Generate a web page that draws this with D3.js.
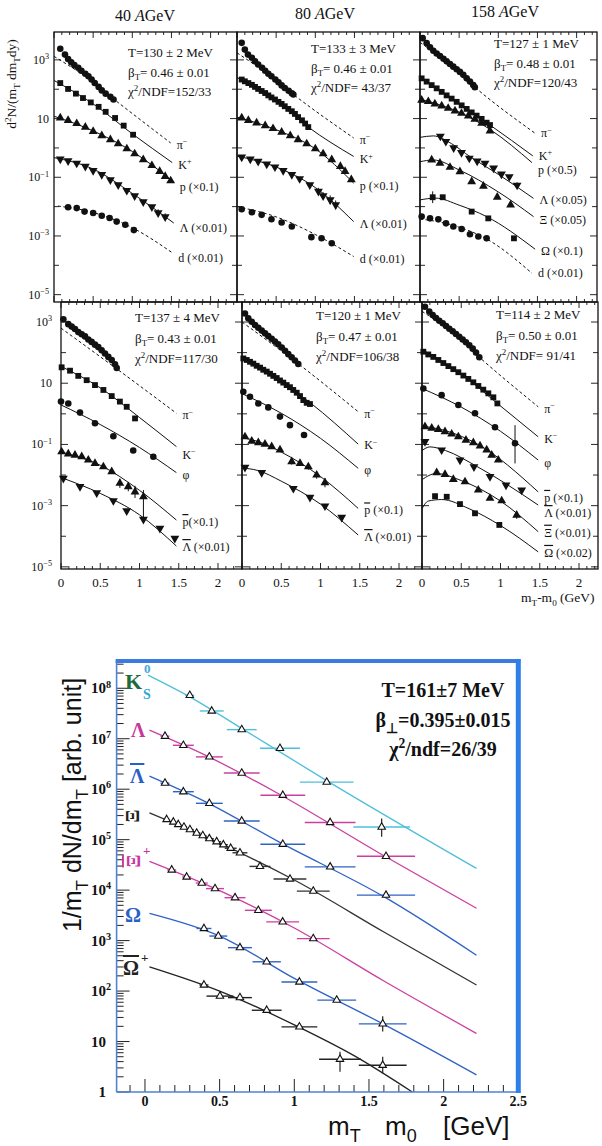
<!DOCTYPE html>
<html><head><meta charset="utf-8">
<script src="https://cdn.jsdelivr.net/npm/d3@7/dist/d3.min.js"></script>
<style>html,body{margin:0;padding:0;background:#fff;}svg{display:block;}</style>
</head><body>
<svg id="chart" width="602" height="1146" xmlns="http://www.w3.org/2000/svg"></svg>
<script>
// ================= DATA (top figure): points are [mT-m0 (GeV), log10(yield), errUp, errDown] =================
const beamEnergies = ["40", "80", "158"];
const panelT    = ["T=130 ± 2 MeV","T=133 ± 3 MeV","T=127 ± 1 MeV","T=137 ± 4 MeV","T=120 ± 1 MeV","T=114 ± 2 MeV"];
const panelBeta = ["= 0.46 ± 0.01","= 0.46 ± 0.01","= 0.48 ± 0.01","= 0.43 ± 0.01","= 0.47 ± 0.01","= 0.50 ± 0.01"];
const panelChi  = ["/NDF=152/33","/NDF= 43/37","/NDF=120/43","/NDF=117/30","/NDF=106/38","/NDF= 91/41"];
const topYTickExp = [3, 1, -1, -3, -5];
const topXTickVals = [0, 0.5, 1, 1.5, 2];

// 40 AGeV, positive
const tl_pi = [[0.08,3.38],[0.14,3.18],[0.18,3.03],[0.22,2.92],[0.26,2.82],[0.31,2.73],[0.35,2.63],[0.40,2.53],[0.44,2.44],[0.48,2.33],[0.52,2.21],[0.57,2.08],[0.61,1.96],[0.66,1.85],[0.72,1.74],[0.76,1.65]];
const tl_pi_fit = [[0,3.12],[0.4,2.43],[0.76,1.67],[1.49,0.17]];
const tl_k = [[0.08,2.21],[0.18,2.01],[0.28,1.85],[0.37,1.70],[0.47,1.55],[0.57,1.40],[0.66,1.23],[0.78,1.02],[0.89,0.76],[1.01,0.45]];
const tl_k_fit = [[0,2.3],[0.5,1.5],[1.0,0.48],[1.51,-0.5]];
const tl_p = [[0.08,1.02],[0.18,0.94],[0.29,0.83],[0.40,0.71],[0.50,0.56],[0.61,0.42],[0.72,0.28],[0.82,0.14],[0.93,-0.03],[1.03,-0.20],[1.14,-0.40],[1.25,-0.60],[1.35,-0.80],[1.42,-0.97],[1.49,-1.12]];
const tl_p_fit = [[0,1.08],[0.5,0.58],[1.0,-0.12],[1.53,-1.16]];
const tl_lam = [[0.08,-0.38],[0.18,-0.44],[0.29,-0.52],[0.40,-0.63],[0.50,-0.77],[0.61,-0.91],[0.72,-1.09],[0.82,-1.26],[0.93,-1.45],[1.03,-1.63],[1.14,-1.84],[1.25,-2.01],[1.33,-2.21,0.12,0.12],[1.42,-2.35,0.12,0.12]];
const tl_lam_fit = [[0,-0.33],[0.5,-0.72],[1.0,-1.55],[1.53,-2.56]];
const tl_d = [[0.18,-2.02],[0.29,-2.05],[0.39,-2.17],[0.50,-2.22],[0.61,-2.31],[0.71,-2.39],[0.80,-2.51],[0.91,-2.62],[1.02,-2.80]];
const tl_d_fit = [[0.05,-1.98],[0.5,-2.2],[1.0,-2.72],[1.51,-3.57]];

// 80 AGeV, positive
const tm_pi = [[0.06,3.58],[0.10,3.35],[0.14,3.18],[0.19,3.07],[0.23,2.95],[0.27,2.84],[0.32,2.73],[0.36,2.63],[0.40,2.53],[0.44,2.44],[0.49,2.33],[0.53,2.24],[0.57,2.13],[0.61,2.04],[0.66,1.95],[0.70,1.86],[0.72,1.82]];
const tm_pi_fit = [[0,3.24],[0.4,2.5],[0.72,1.82],[1.49,0.34]];
const tm_k = [[0.06,2.33],[0.10,2.27],[0.145,2.21],[0.19,2.15],[0.23,2.08],[0.27,2.01],[0.315,1.94],[0.36,1.87],[0.40,1.79],[0.44,1.72],[0.485,1.65],[0.53,1.57],[0.57,1.50],[0.61,1.42],[0.655,1.33],[0.70,1.25],[0.74,1.16],[0.78,1.05],[0.83,0.94],[0.87,0.83],[0.91,0.71]];
const tm_k_fit = [[0,2.4],[0.5,1.6],[0.91,0.71],[1.49,-0.29]];
const tm_p = [[0.06,1.02],[0.145,0.94],[0.25,0.85],[0.36,0.76],[0.46,0.66],[0.57,0.54],[0.68,0.42],[0.78,0.28],[0.89,0.14],[1.0,-0.03],[1.10,-0.20],[1.21,-0.40],[1.32,-0.63],[1.38,-0.80],[1.46,-1.08]];
const tm_p_fit = [[0,1.05],[0.5,0.62],[1.0,-0.03],[1.49,-1.2]];
const tm_lam = [[0.06,-0.31],[0.17,-0.38],[0.27,-0.46],[0.38,-0.55],[0.485,-0.65],[0.59,-0.77],[0.70,-0.91],[0.80,-1.05],[0.93,-1.26],[1.04,-1.48,0.12,0.12],[1.10,-1.63,0.12,0.12],[1.19,-1.77,0.15,0.15],[1.26,-1.94,0.15,0.15]];
const tm_lam_fit = [[0,-0.28],[0.5,-0.65],[1.0,-1.35],[1.49,-2.51]];
const tm_d = [[0.06,-2.09],[0.19,-2.19],[0.315,-2.28],[0.44,-2.43],[0.57,-2.54],[0.70,-2.68],[0.95,-3.04],[1.08,-3.08],[1.21,-3.25]];
const tm_d_fit = [[0,-2.0],[0.5,-2.35],[1.0,-2.95],[1.49,-3.7]];

// 158 AGeV, positive
const tr_pi = [[0.034,3.74],[0.085,3.57],[0.128,3.43],[0.17,3.31],[0.213,3.22],[0.255,3.13],[0.30,3.04],[0.34,2.95],[0.383,2.86],[0.425,2.77],[0.468,2.68],[0.51,2.59],[0.553,2.49],[0.596,2.37],[0.638,2.26],[0.68,2.14],[0.70,2.07]];
const tr_pi_fit = [[0,3.6],[0.4,2.78],[0.7,2.07],[1.47,0.5]];
const tr_k = [[0.021,2.37],[0.085,2.26],[0.149,2.14],[0.213,2.03],[0.277,1.91],[0.34,1.79],[0.404,1.68],[0.468,1.57],[0.532,1.45],[0.596,1.33],[0.66,1.21],[0.723,1.10],[0.787,0.99],[0.851,0.86],[0.894,0.78]];
const tr_k_fit = [[0,2.4],[0.5,1.5],[0.894,0.78],[1.44,-0.27]];
const tr_p = [[0.021,1.63],[0.106,1.58],[0.19,1.50],[0.277,1.43],[0.36,1.35],[0.447,1.26],[0.53,1.18],[0.617,1.09],[0.70,0.98],[0.787,0.84],[0.894,0.58]];
const tr_p_fit = [[0,1.66],[0.5,1.22],[0.9,0.62],[1.43,-0.5]];
const tr_lam = [[0.26,0.40],[0.33,0.22],[0.43,0.0],[0.53,-0.16],[0.63,-0.35],[0.73,-0.45],[0.83,-0.52],[0.94,-0.69],[1.04,-0.89],[1.14,-0.98],[1.24,-1.27,0.1,0.1]];
const tr_lam_fit = [[0,0.36],[0.17,0.41],[0.4,0.15],[0.64,-0.3],[1.0,-0.9],[1.45,-1.72]];
const tr_xi = [[0.149,-0.41],[0.255,-0.52],[0.383,-0.66],[0.51,-0.81],[0.66,-1.15],[0.81,-1.30],[0.987,-1.68],[1.157,-1.94]];
const tr_xi_fit = [[0,-0.47],[0.17,-0.41],[0.5,-0.75],[1.0,-1.5],[1.45,-2.34]];
const tr_om = [[0.162,-1.68,0.2,0.2],[0.29,-1.68],[0.66,-2.17],[0.872,-2.40],[1.2,-3.08]];
const tr_om_fit = [[0,-1.77],[0.2,-1.71],[0.5,-1.95],[0.85,-2.34],[1.47,-3.45]];
const tr_d = [[0.021,-2.34],[0.128,-2.40],[0.234,-2.43],[0.332,-2.57],[0.426,-2.68],[0.532,-2.76],[0.638,-2.94],[0.745,-3.02],[0.851,-3.08,0.1,0.1]];
const tr_d_fit = [[0,-2.42],[0.4,-2.62],[0.85,-3.1],[1.43,-4.27]];

// 40 AGeV, negative
const bl_pi = [[0.03,3.09],[0.093,2.93],[0.136,2.85],[0.178,2.77],[0.22,2.67],[0.264,2.60],[0.306,2.53],[0.348,2.43],[0.39,2.35],[0.433,2.26],[0.475,2.18],[0.518,2.08],[0.56,1.97],[0.603,1.86],[0.646,1.76],[0.688,1.62],[0.71,1.50]];
const bl_pi_fit = [[0,2.8],[0.71,1.47],[1.47,0.02]];
const bl_k = [[0.008,1.52],[0.115,1.41],[0.22,1.24],[0.327,1.10],[0.433,0.94],[0.54,0.78],[0.646,0.58],[0.75,0.40],[0.837,0.23],[0.943,-0.15]];
const bl_k_fit = [[0,1.55],[0.5,0.85],[1.0,-0.12],[1.47,-1.07]];
const bl_phi = [[0.0,0.40],[0.093,0.34],[0.242,0.04],[0.433,-0.31],[0.667,-0.73],[0.92,-1.2],[1.176,-1.4]];
const bl_phi_fit = [[0,0.29],[0.5,-0.35],[1.0,-1.1],[1.47,-1.92]];
const bl_pbar = [[0.008,-1.24],[0.093,-1.31],[0.178,-1.35],[0.264,-1.40],[0.348,-1.51],[0.433,-1.62],[0.54,-1.73],[0.646,-1.89],[0.75,-2.27,0.15,0.15],[0.857,-2.38,0.15,0.15],[0.943,-2.55,0.2,0.2],[1.05,-2.71,0.22,0.76]];
const bl_pbar_fit = [[0,-1.25],[0.5,-1.68],[1.0,-2.5],[1.47,-3.47]];
const bl_lbar = [[0.03,-2.11],[0.242,-2.38],[0.455,-2.58],[0.667,-2.84],[0.837,-3.17],[1.05,-3.45],[1.26,-3.74],[1.45,-4.07]];
const bl_lbar_fit = [[0,-2.08],[0.5,-2.6],[1.0,-3.3],[1.47,-4.32]];

// 80 AGeV, negative
const bm_pi = [[0.038,3.28],[0.08,3.12],[0.124,3.01],[0.166,2.90],[0.208,2.81],[0.251,2.72],[0.293,2.63],[0.335,2.54],[0.378,2.45],[0.42,2.36],[0.462,2.27],[0.506,2.17],[0.548,2.06],[0.59,1.95],[0.633,1.85],[0.675,1.74],[0.717,1.63]];
const bm_pi_fit = [[0,3.0],[0.72,1.63],[1.48,0.07]];
const bm_k = [[0.017,1.81],[0.06,1.76],[0.102,1.70],[0.144,1.64],[0.187,1.57],[0.23,1.51],[0.271,1.44],[0.315,1.38],[0.357,1.31],[0.399,1.24],[0.442,1.17],[0.484,1.09],[0.526,1.02],[0.569,0.94],[0.611,0.87],[0.653,0.78],[0.697,0.69],[0.739,0.58],[0.781,0.45],[0.824,0.36],[0.866,0.32]];
const bm_k_fit = [[0,1.84],[0.5,1.05],[0.87,0.36],[1.48,-0.99]];
const bm_phi = [[0.017,0.72],[0.102,0.56],[0.208,0.34],[0.335,0.21],[0.484,-0.09],[0.611,-0.37],[0.79,-0.69]];
const bm_phi_fit = [[0,0.66],[0.5,0.02],[1.0,-0.8],[1.48,-1.78]];
const bm_pbar = [[0.038,-0.75],[0.124,-0.89],[0.208,-0.94],[0.293,-0.99],[0.378,-1.07],[0.484,-1.18],[0.633,-1.56,0.1,0.1],[0.739,-1.62,0.08,0.08],[0.845,-1.73,0.1,0.1],[0.951,-2.0,0.12,0.12],[1.057,-2.25,0.15,0.15]];
const bm_pbar_fit = [[0,-0.78],[0.2,-0.9],[0.5,-1.25],[1.0,-2.05],[1.48,-3.09]];
const bm_lbar = [[0.038,-1.75],[0.251,-1.92],[0.654,-2.44],[0.866,-2.73],[1.057,-3.01],[1.27,-3.38]];
const bm_lbar_fit = [[0,-1.77],[0.2,-1.85],[0.5,-2.2],[1.0,-2.95],[1.48,-3.96]];

// 158 AGeV, negative
const br_pi = [[0.038,3.5],[0.093,3.34],[0.136,3.23],[0.178,3.13],[0.22,3.04],[0.264,2.96],[0.306,2.87],[0.348,2.78],[0.391,2.70],[0.433,2.61],[0.475,2.52],[0.518,2.43],[0.56,2.34],[0.603,2.24],[0.646,2.13],[0.688,2.0],[0.73,1.85]];
const br_pi_fit = [[0,3.35],[0.4,2.62],[0.73,1.85],[1.48,0.23]];
const br_k = [[0.017,2.03],[0.08,1.94],[0.144,1.86],[0.208,1.76],[0.272,1.66],[0.336,1.56],[0.399,1.46],[0.463,1.36],[0.527,1.25],[0.59,1.14],[0.654,1.03],[0.718,0.91],[0.781,0.79],[0.845,0.67],[0.909,0.54],[0.96,0.34]];
const br_k_fit = [[0,2.1],[0.5,1.3],[0.96,0.34],[1.48,-0.75]];
const br_phi = [[0.017,0.83],[0.25,0.61],[0.463,0.29],[0.675,0.02],[0.93,-0.44],[1.185,-0.96,0.59,0.66]];
const br_phi_fit = [[0,0.83],[0.5,0.22],[1.0,-0.57],[1.48,-1.51]];
const br_pbar = [[0.038,-0.42],[0.124,-0.47],[0.208,-0.51],[0.293,-0.58],[0.378,-0.66],[0.463,-0.75],[0.56,-0.86],[0.654,-0.94],[0.739,-1.05],[0.824,-1.18],[0.888,-1.35],[0.972,-1.51]];
const br_pbar_fit = [[0,-0.4],[0.3,-0.55],[0.7,-0.98],[1.48,-2.55]];
const br_lbar = [[0.038,-0.91],[0.25,-1.18],[0.484,-1.51],[0.662,-1.73],[0.866,-2.05],[1.07,-2.33],[1.27,-2.49]];
const br_lbar_fit = [[0,-1.2],[0.1,-1.08],[0.3,-1.2],[0.7,-1.72],[1.48,-2.98]];
const br_xibar = [[0.187,-1.92],[0.293,-1.98],[0.399,-2.14],[0.548,-2.22],[0.717,-2.49],[0.866,-2.76],[1.015,-2.84],[1.206,-3.31,0.12,0.12]];
const br_xibar_fit = [[0,-2.15],[0.18,-1.95],[0.5,-2.18],[1.0,-2.85],[1.48,-3.85]];
const br_ombar = [[0.166,-2.69],[0.315,-2.71],[0.484,-2.95],[0.675,-3.25],[0.985,-3.63]];
const br_ombar_fit = [[0,-3.1],[0.08,-2.85],[0.25,-2.8],[0.6,-3.1],[1.0,-3.65],[1.48,-4.51]];

// ================= DATA (bottom figure): [mT-m0 (GeV), log10(1/mT dN/dmT), xErr, errUp, errDown] =================
const botYTickExp = [0,1,2,3,4,5,6,7,8];
const botXTickVals = [0, 0.5, 1, 1.5, 2, 2.5];
const k0s = [[0.30,7.86,0.03],[0.447,7.55,0.08],[0.648,7.18,0.10],[0.904,6.81,0.134],[1.217,6.14,0.18],[1.585,5.25,0.19,0.17,0.19]];
const k0s_fit = [[0.02,8.26],[0.3,7.83],[0.65,7.2],[1.2,6.2],[2.22,4.43]];
const lam = [[0.134,7.05,0.03],[0.257,6.87,0.07],[0.431,6.64,0.09],[0.648,6.32,0.12],[0.923,5.88,0.15],[1.24,5.34,0.17],[1.614,4.67,0.195]];
const lam_fit = [[0.03,7.17],[0.4,6.68],[0.9,5.9],[1.6,4.68],[2.22,3.64]];
const lbar = [[0.134,6.12,0.03],[0.257,5.95,0.07],[0.431,5.72,0.09],[0.648,5.37,0.12],[0.923,4.91,0.15],[1.24,4.46,0.17],[1.614,3.90,0.195]];
const lbar_fit = [[0.03,6.26],[0.4,5.76],[0.9,4.95],[1.6,3.87],[2.22,2.71]];
const xi = [[0.145,5.40,0.02],[0.19,5.35,0.02],[0.223,5.30,0.02],[0.261,5.25,0.02],[0.301,5.20,0.025],[0.346,5.13,0.025],[0.387,5.08,0.025],[0.431,5.02,0.03],[0.48,4.96,0.03],[0.525,4.90,0.03],[0.574,4.83,0.04],[0.636,4.74,0.05],[0.77,4.47,0.07],[0.971,4.22,0.11],[1.127,3.98,0.11]];
const xi_fit = [[0.03,5.53],[0.5,4.93],[1.0,4.2],[1.6,3.17],[2.22,2.12]];
const xibar = [[0.179,4.40,0.03],[0.279,4.26,0.03],[0.38,4.14,0.04],[0.469,4.03,0.06],[0.603,3.85,0.07],[0.759,3.60,0.09],[0.922,3.37,0.11],[1.127,3.04,0.11]];
const xibar_fit = [[0.03,4.57],[0.5,3.99],[1.0,3.25],[1.6,2.2],[2.22,1.16]];
const om = [[0.395,3.24,0.05],[0.491,3.09,0.06],[0.636,2.86,0.08],[0.815,2.58,0.095],[1.034,2.18,0.12],[1.284,1.82,0.13],[1.592,1.35,0.16,0.15,0.15]];
const om_fit = [[0.03,3.54],[0.5,3.09],[1.0,2.25],[1.6,1.34],[2.22,0.34]];
const ombar = [[0.395,2.12,0.03],[0.502,1.90,0.09],[0.636,1.87,0.08],[0.815,1.62,0.1],[1.034,1.29,0.12],[1.306,0.65,0.14,0.15,0.25],[1.592,0.53,0.16,0.17,0.16]];
const ombar_fit = [[0.03,2.48],[0.5,2.0],[1.0,1.33],[1.4,0.72],[1.79,0.0]];

// ================= LAYOUT / STYLE =================
const svg = d3.select('#chart');
const SERIF = '"Liberation Serif","Times New Roman",serif';
const SANS = '"Liberation Sans",Arial,sans-serif';

// plain text; a letter written with a following U+0304 is shown with an overline (antiparticle bar)
function addSeg(t, s, dy, size) {
  const segs = s.split(/(.\u0304)/).filter(x => x.length);
  segs.forEach((seg, j) => {
    const bar = seg.includes('\u0304');
    const ts = t.append('tspan').attr('dy', j === 0 ? dy : 0).attr('font-size', size).text(bar ? seg.replace('\u0304', '') : seg);
    if (bar) ts.attr('style', 'text-decoration:overline');
  });
}
function rich(t, str, fs) {
  const parts = str.split(/(\^\{[^}]*\}|_\{[^}]*\})/).filter(s => s.length);
  let shift = 0;
  parts.forEach(p => {
    let s = p, target = 0, size = fs;
    if (p.startsWith('^{')) { s = p.slice(2, -1); target = -0.38 * fs; size = 0.68 * fs; }
    else if (p.startsWith('_{')) { s = p.slice(2, -1); target = 0.28 * fs; size = 0.68 * fs; }
    addSeg(t, s, target - shift, size);
    shift = target;
  });
  return t;
}

const rows = [
  {top:32, bot:302, lo:-5.25, hi:3.95, x0:[54,237,420], x1:[237,420,597], ppg:78.3, textY:[57,53,48], lineGap:19.5, labX:49},
  {top:302, bot:569, lo:-5.07, hi:3.654, x0:[61,242,422], x1:[242,422,598], ppg:78.5, textY:[322,320,319], lineGap:20.5, labX:52}
];

const panels = [
  {row:0, col:0, series:[
    {pts:tl_pi, fit:tl_pi_fit, sym:'c', dash:true, label:'π^{−}', ldy:6},
    {pts:tl_k, fit:tl_k_fit, sym:'s', label:'K^{+}', ldy:6},
    {pts:tl_p, fit:tl_p_fit, sym:'u', label:'p (×0.1)', ldy:9},
    {pts:tl_lam, fit:tl_lam_fit, sym:'d', label:'Λ (×0.01)', ldy:9},
    {pts:tl_d, fit:tl_d_fit, sym:'c', dash:true, label:'d (×0.01)', ldy:9}]},
  {row:0, col:1, series:[
    {pts:tm_pi, fit:tm_pi_fit, sym:'c', dash:true, label:'π^{−}', ldy:6},
    {pts:tm_k, fit:tm_k_fit, sym:'s', label:'K^{+}', ldy:7},
    {pts:tm_p, fit:tm_p_fit, sym:'u', label:'p (×0.1)', ldy:7},
    {pts:tm_lam, fit:tm_lam_fit, sym:'d', label:'Λ (×0.01)', ldy:6},
    {pts:tm_d, fit:tm_d_fit, sym:'c', dash:true, label:'d (×0.01)', ldy:6}]},
  {row:0, col:2, series:[
    {pts:tr_pi, fit:tr_pi_fit, sym:'c', dash:true, label:'π^{−}', ldy:4},
    {pts:tr_k, fit:tr_k_fit, sym:'s', label:'K^{+}', ldy:4},
    {pts:tr_p, fit:tr_p_fit, sym:'u', label:'p (×0.5)', ldy:11},
    {pts:tr_lam, fit:tr_lam_fit, sym:'d', label:'Λ (×0.05)', ldy:6},
    {pts:tr_xi, fit:tr_xi_fit, sym:'u', label:'Ξ (×0.05)', ldy:7},
    {pts:tr_om, fit:tr_om_fit, sym:'s', label:'Ω (×0.1)', ldy:6},
    {pts:tr_d, fit:tr_d_fit, sym:'c', dash:true, label:'d (×0.01)', ldy:4}]},
  {row:1, col:0, series:[
    {pts:bl_pi, fit:bl_pi_fit, sym:'c', dash:true, label:'π^{−}', ldy:6},
    {pts:bl_k, fit:bl_k_fit, sym:'s', label:'K^{−}', ldy:12},
    {pts:bl_phi, fit:bl_phi_fit, sym:'c', label:'φ', ldy:6},
    {pts:bl_pbar, fit:bl_pbar_fit, sym:'u', label:'p\u0304(×0.1)', ldy:6},
    {pts:bl_lbar, fit:bl_lbar_fit, sym:'d', label:'Λ\u0304 (×0.01)', ldy:5}]},
  {row:1, col:1, series:[
    {pts:bm_pi, fit:bm_pi_fit, sym:'c', dash:true, label:'π^{−}', ldy:6},
    {pts:bm_k, fit:bm_k_fit, sym:'s', label:'K^{−}', ldy:5},
    {pts:bm_phi, fit:bm_phi_fit, sym:'c', label:'φ', ldy:6},
    {pts:bm_pbar, fit:bm_pbar_fit, sym:'u', label:'p\u0304 (×0.1)', ldy:6},
    {pts:bm_lbar, fit:bm_lbar_fit, sym:'d', label:'Λ\u0304 (×0.01)', ldy:6}]},
  {row:1, col:2, series:[
    {pts:br_pi, fit:br_pi_fit, sym:'c', dash:true, label:'π^{−}', ldy:6},
    {pts:br_k, fit:br_k_fit, sym:'s', label:'K^{−}', ldy:6},
    {pts:br_phi, fit:br_phi_fit, sym:'c', label:'φ', ldy:7},
    {pts:br_pbar, fit:br_pbar_fit, sym:'u', label:'p\u0304 (×0.1)', ldy:10},
    {pts:br_lbar, fit:br_lbar_fit, sym:'d', label:'Λ\u0304 (×0.01)', ldy:12},
    {pts:br_xibar, fit:br_xibar_fit, sym:'u', label:'Ξ\u0304 (×0.01)', ldy:5},
    {pts:br_ombar, fit:br_ombar_fit, sym:'s', label:'Ω\u0304 (×0.02)', ldy:5}]}
];

const symGen = {
  c: d3.symbol().type(d3.symbolCircle).size(34),
  s: d3.symbol().type(d3.symbolSquare).size(34),
  u: d3.symbol().type(d3.symbolTriangle).size(34),
  d: d3.symbol().type(d3.symbolTriangle).size(34)
};

const topG = svg.append('g').attr('font-family', SERIF).attr('fill', '#111');

panels.forEach((pn, i) => {
  const R = rows[pn.row];
  const x0 = R.x0[pn.col], x1 = R.x1[pn.col];
  const xs = d3.scaleLinear().domain([0, 2.3]).range([x0, x0 + 2.3 * R.ppg]);
  const ys = d3.scaleLog().domain([Math.pow(10, R.lo), Math.pow(10, R.hi)]).range([R.bot, R.top]);
  const g = topG.append('g');

  // ticks
  const tk = g.append('g').attr('stroke', '#111').attr('stroke-width', 0.9);
  d3.range(0, 23).map(k => k / 10).forEach(v => {
    const X = xs(v);
    if (X > x1 - 1) return;
    const L = (Math.round(v * 10) % 5 === 0) ? 6 : 3;
    tk.append('line').attr('x1', X).attr('x2', X).attr('y1', R.bot).attr('y2', R.bot - L);
    tk.append('line').attr('x1', X).attr('x2', X).attr('y1', R.top).attr('y2', R.top + L);
  });
  d3.range(-5, 4).forEach(e => {
    const Y = ys(Math.pow(10, e));
    const L = (Math.abs(e) % 2 === 1) ? 7 : 5;
    tk.append('line').attr('x1', x0).attr('x2', x0 + L).attr('y1', Y).attr('y2', Y);
    tk.append('line').attr('x1', x1).attr('x2', x1 - L).attr('y1', Y).attr('y2', Y);
  });

  // fits
  const line = d3.line().x(d => xs(d[0])).y(d => ys(Math.pow(10, d[1]))).curve(d3.curveMonotoneX);
  pn.series.forEach(s => {
    g.append('path').attr('d', line(s.fit)).attr('fill', 'none').attr('stroke', '#111')
      .attr('stroke-width', 1.0).attr('stroke-dasharray', s.dash ? '3,2.5' : null);
  });
  // error bars + markers + labels
  pn.series.forEach(s => {
    s.pts.forEach(p => {
      if (p.length > 2) {
        g.append('line').attr('x1', xs(p[0])).attr('x2', xs(p[0]))
          .attr('y1', ys(Math.pow(10, p[1] + p[2]))).attr('y2', ys(Math.pow(10, p[1] - p[3])))
          .attr('stroke', '#111').attr('stroke-width', 1);
      }
      g.append('path').attr('d', symGen[s.sym]())
        .attr('transform', `translate(${xs(p[0])},${ys(Math.pow(10, p[1]))})` + (s.sym === 'd' ? ' rotate(180)' : ''))
        .attr('fill', '#111');
    });
    const end = s.fit[s.fit.length - 1];
    rich(g.append('text').attr('x', xs(end[0]) + 6).attr('y', ys(Math.pow(10, end[1])) + s.ldy)
      .attr('font-size', 12), s.label, 12);
  });

  // frame
  g.append('rect').attr('x', x0).attr('y', R.top).attr('width', x1 - x0).attr('height', R.bot - R.top)
    .attr('fill', 'none').attr('stroke', '#111').attr('stroke-width', 1.3);

  // fit parameters text
  const tx = x0 + 74, ty = R.textY[pn.col];
  g.append('text').attr('x', tx).attr('y', ty).attr('font-size', 13).text(panelT[i]);
  rich(g.append('text').attr('x', tx).attr('y', ty + R.lineGap).attr('font-size', 13), 'β_{T}' + panelBeta[i], 13);
  rich(g.append('text').attr('x', tx).attr('y', ty + 2 * R.lineGap).attr('font-size', 13), 'χ^{2}' + panelChi[i], 13);

  // axis labels
  if (pn.col === 0) {
    topYTickExp.forEach(e => {
      const t = g.append('text').attr('x', R.labX).attr('y', ys(Math.pow(10, e)) + 4)
        .attr('text-anchor', 'end').attr('font-size', 12);
      rich(t, e === 1 ? '10' : '10^{' + (e < 0 ? '−' + (-e) : e) + '}', 12);
    });
  }
  if (pn.row === 1) {
    topXTickVals.forEach(v => {
      g.append('text').attr('x', xs(v)).attr('y', 587).attr('text-anchor', 'middle')
        .attr('font-size', 13).text(String(v));
    });
  }
  if (pn.row === 0) {
    const hx = [145, 325, 505][pn.col], hy = [21, 19, 17][pn.col];
    const t = g.append('text').attr('x', hx).attr('y', hy).attr('text-anchor', 'middle').attr('font-size', 16);
    t.append('tspan').text(beamEnergies[pn.col] + ' ');
    t.append('tspan').attr('font-style', 'italic').text('A');
    t.append('tspan').text('GeV');
  }
});
// top-figure axis titles
rich(topG.append('text').attr('transform', 'translate(16,84) rotate(-90)').attr('text-anchor', 'middle')
  .attr('font-size', 13.5), 'd^{2}N/(m_{T} dm_{T}dy)', 13.5);
rich(topG.append('text').attr('x', 521).attr('y', 602).attr('font-size', 13.5), 'm_{T}-m_{0} (GeV)', 13.5);

// ================= bottom figure =================
const B = {left:116.6, right:518.3, top:661, bottom:1092};
const bx = d3.scaleLinear().domain([-0.19, 2.5]).range([B.left, B.right]);
const by = d3.scaleLog().domain([1, Math.pow(10, 8.54)]).range([B.bottom, B.top]);
const bg = svg.append('g');

const botSeries = [
  {pts:k0s, fit:k0s_fit, color:'#4fbfd9'},
  {pts:lam, fit:lam_fit, color:'#cc3f9f'},
  {pts:lbar, fit:lbar_fit, color:'#2f62c6'},
  {pts:xi, fit:xi_fit, color:'#333333'},
  {pts:xibar, fit:xibar_fit, color:'#cc3f9f'},
  {pts:om, fit:om_fit, color:'#2f62c6'},
  {pts:ombar, fit:ombar_fit, color:'#222222'}
];
const bline = d3.line().x(d => bx(d[0])).y(d => by(Math.pow(10, d[1]))).curve(d3.curveMonotoneX);
botSeries.forEach(s => {
  bg.append('path').attr('d', bline(s.fit)).attr('fill', 'none').attr('stroke', s.color).attr('stroke-width', 1.3);
});
botSeries.forEach(s => {
  s.pts.forEach(p => {
    const X = bx(p[0]), Y = by(Math.pow(10, p[1]));
    bg.append('line').attr('x1', bx(p[0] - p[2])).attr('x2', bx(p[0] + p[2])).attr('y1', Y).attr('y2', Y)
      .attr('stroke', s.color).attr('stroke-width', 1.4);
    if (p.length > 3) {
      bg.append('line').attr('x1', X).attr('x2', X).attr('y1', by(Math.pow(10, p[1] + p[3])))
        .attr('y2', by(Math.pow(10, p[1] - p[4]))).attr('stroke', '#222').attr('stroke-width', 1.2);
    }
  });
});
const triGen = d3.symbol().type(d3.symbolTriangle).size(24);
botSeries.forEach(s => {
  s.pts.forEach(p => {
    bg.append('path').attr('d', triGen()).attr('transform', `translate(${bx(p[0])},${by(Math.pow(10, p[1]))})`)
      .attr('fill', '#fff').attr('stroke', '#111').attr('stroke-width', 1.1);
  });
});

// axes ticks
const btk = bg.append('g').attr('stroke', '#222').attr('stroke-width', 1);
d3.range(0, 9).forEach(e => {
  const Y = by(Math.pow(10, e));
  btk.append('line').attr('x1', B.left).attr('x2', B.left + 13).attr('y1', Y).attr('y2', Y);
  d3.range(2, 10).forEach(k => {
    const v = k * Math.pow(10, e);
    if (v > Math.pow(10, 8.54)) return;
    const yy = by(v);
    btk.append('line').attr('x1', B.left).attr('x2', B.left + 7).attr('y1', yy).attr('y2', yy);
  });
});
d3.range(-1, 25).map(k => k / 10).forEach(v => {
  const X = bx(v);
  const L = (Math.round(v * 10) % 5 === 0) ? 13 : 7;
  btk.append('line').attr('x1', X).attr('x2', X).attr('y1', B.bottom).attr('y2', B.bottom - L);
});
// frame
bg.append('line').attr('x1', B.left).attr('x2', B.left).attr('y1', B.top).attr('y2', B.bottom).attr('stroke', '#4f83d6').attr('stroke-width', 1.6);
bg.append('line').attr('x1', B.left).attr('x2', B.right + 2).attr('y1', B.bottom).attr('y2', B.bottom).attr('stroke', '#4f83d6').attr('stroke-width', 1.6);
bg.append('line').attr('x1', B.left - 1).attr('x2', B.right + 2).attr('y1', B.top).attr('y2', B.top).attr('stroke', '#3a7bdc').attr('stroke-width', 4);
bg.append('line').attr('x1', B.right).attr('x2', B.right).attr('y1', B.top - 2).attr('y2', B.bottom + 1).attr('stroke', '#2d80ea').attr('stroke-width', 5);

// tick labels
botYTickExp.forEach(e => {
  const Y = by(Math.pow(10, e)) + 5;
  const t = bg.append('text').attr('font-family', SERIF).attr('font-weight', 'bold').attr('font-size', 15).attr('fill', '#111');
  if (e === 0) t.attr('x', 106).attr('y', Y).attr('text-anchor', 'end').text('1');
  else if (e === 1) t.attr('x', 91).attr('y', Y).text('10');
  else rich(t.attr('x', 91).attr('y', Y), '10^{' + e + '}', 15);
});
botXTickVals.forEach(v => {
  bg.append('text').attr('x', bx(v)).attr('y', 1106).attr('text-anchor', 'middle').attr('font-family', SERIF)
    .attr('font-weight', 'bold').attr('font-size', 14).attr('fill', '#111').text(String(v));
});

// axis titles
rich(bg.append('text').attr('transform', 'translate(81,805) rotate(-90)').attr('text-anchor', 'middle')
  .attr('font-family', SANS).attr('font-size', 25).attr('fill', '#111'), '1/m_{T} dN/dm_{T} [arb. unit]', 25);
const xl = bg.append('text').attr('y', 1135).attr('font-family', SANS).attr('font-size', 26).attr('fill', '#111');
xl.append('tspan').attr('x', 328).text('m');
xl.append('tspan').attr('dy', 7).attr('font-size', 18).text('T');
xl.append('tspan').attr('x', 385).attr('dy', -7).text('m');
xl.append('tspan').attr('dy', 7).attr('font-size', 18).text('0');
xl.append('tspan').attr('x', 443).attr('dy', -7).text('[GeV]');

// fit parameter annotation
const ann = bg.append('g').attr('font-family', SERIF).attr('font-weight', 'bold').attr('font-size', 20).attr('fill', '#111').attr('text-anchor', 'middle');
ann.append('text').attr('x', 443).attr('y', 697).text('T=161±7 MeV');
rich(ann.append('text').attr('x', 443).attr('y', 727), 'β_{⊥}=0.395±0.015', 20);
rich(ann.append('text').attr('x', 443).attr('y', 756), 'χ^{2}/ndf=26/39', 20);

// species labels
const sl = bg.append('g').attr('font-family', SERIF).attr('font-weight', 'bold');
sl.append('text').attr('x', 125).attr('y', 689).attr('font-size', 22).attr('fill', '#1e6b3c').text('K');
sl.append('text').attr('x', 143).attr('y', 699).attr('font-size', 14).attr('fill', '#2fa6d8').text('S');
sl.append('text').attr('x', 144).attr('y', 673).attr('font-size', 13).attr('fill', '#45a8e0').text('0');
sl.append('text').attr('x', 131).attr('y', 737).attr('font-size', 20).attr('fill', '#c8389a').text('Λ');
rich(sl.append('text').attr('x', 130).attr('y', 783).attr('font-size', 20).attr('fill', '#2b5fc8'), 'Λ\u0304', 20);
sl.append('text').attr('transform', 'translate(139,816) rotate(-90)').attr('text-anchor', 'middle').attr('font-size', 19).attr('fill', '#222').text('Ξ');
rich(sl.append('text').attr('transform', 'translate(140,861) rotate(-90)').attr('text-anchor', 'middle').attr('font-size', 19).attr('fill', '#c8389a'), 'Ξ\u0304', 19);
sl.append('text').attr('x', 143).attr('y', 855).attr('font-size', 13).attr('fill', '#c8389a').text('+');
sl.append('text').attr('x', 125).attr('y', 922).attr('font-size', 20).attr('fill', '#2b5fc8').text('Ω');
rich(sl.append('text').attr('x', 123).attr('y', 975).attr('font-size', 20).attr('fill', '#222'), 'Ω\u0304', 20);
sl.append('text').attr('x', 141).attr('y', 962).attr('font-size', 13).attr('fill', '#222').text('+');
</script>
</body></html>
